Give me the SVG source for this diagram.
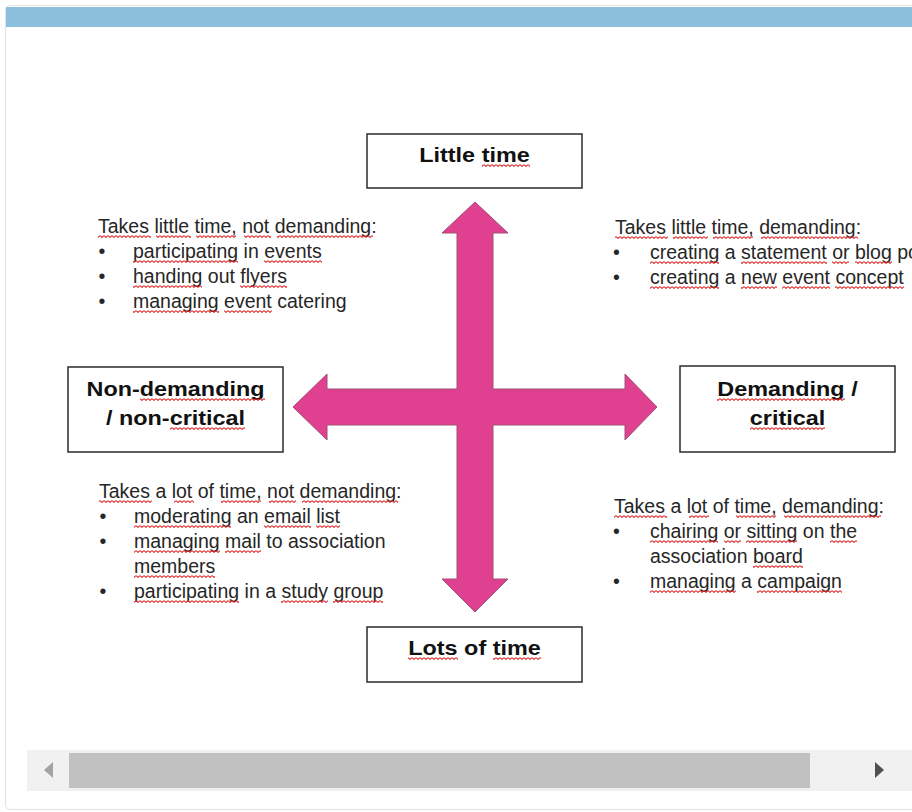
<svg xmlns="http://www.w3.org/2000/svg" width="912" height="812" viewBox="0 0 912 812">
  <style>
    .body{font-family:"Liberation Sans",Arial,sans-serif;font-size:19.5px;fill:#262626}
    .head{font-family:"Liberation Sans",Arial,sans-serif;font-size:20px;font-weight:bold;fill:#111;text-anchor:middle}
    .box{fill:#fff;stroke:#2b2b2b;stroke-width:1.5}
    .arrow{fill:#df4190;stroke:#a24e77;stroke-width:1}
    .sq rect{fill:url(#squiggle);height:3px}
  </style>
  <defs>
    <!-- red spell-check wave, tiled along each underlined word -->
    <pattern id="squiggle" patternUnits="userSpaceOnUse" x="0" y="0" width="4" height="3">
      <path d="M0,0.6 L2,2.4 L4,0.6" fill="none" stroke="#e22a2a" stroke-width="1.1"/>
    </pattern>
  </defs>

  <!-- card frame and header bar -->
  <rect x="5.5" y="5.5" width="930" height="804" rx="5" fill="#fff" stroke="#e2e2e2"/>
  <rect x="6" y="7" width="930" height="20" fill="#8bc0dc"/>

  <!-- four-way arrow -->
  <g id="connectors">
    <polygon class="arrow" points="475,202 508,233 493,233 493,389 625,389 625,374 657,407 625,440 625,425 493,425 493,579 508,579 475,612 442,579 457,579 457,425 327,425 327,440 293,407 327,374 327,389 457,389 457,233 442,233"/>
  </g>

  <!-- axis boxes -->
  <g id="node-little-time">
    <rect class="box" x="367" y="134" width="215" height="54"/>
    <text class="head" transform="translate(474.5,162) scale(1.17,1)" x="0" y="0"><tspan>Little</tspan> <tspan>time</tspan></text>
    <g class="sq" transform="translate(0,164)"><rect x="482" width="48"/></g>
  </g>
  <g id="node-non-demanding">
    <rect class="box" x="68" y="367" width="215" height="85"/>
    <text class="head" transform="translate(175.5,396) scale(1.17,1)" x="0" y="0"><tspan>Non-demanding</tspan></text>
    <text class="head" transform="translate(175.5,425) scale(1.17,1)" x="0" y="0"><tspan>/</tspan> <tspan>non-critical</tspan></text>
    <g class="sq" transform="translate(0,398)"><rect x="140" width="125"/></g>
    <g class="sq" transform="translate(0,427)"><rect x="170" width="75"/></g>
  </g>
  <g id="node-demanding">
    <rect class="box" x="680" y="366" width="215" height="86"/>
    <text class="head" transform="translate(787.5,396) scale(1.17,1)" x="0" y="0"><tspan>Demanding</tspan> <tspan>/</tspan></text>
    <text class="head" transform="translate(787.5,425) scale(1.17,1)" x="0" y="0"><tspan>critical</tspan></text>
    <g class="sq" transform="translate(0,398)"><rect x="717" width="128"/></g>
    <g class="sq" transform="translate(0,427)"><rect x="750" width="75"/></g>
  </g>
  <g id="node-lots-of-time">
    <rect class="box" x="367" y="627" width="215" height="55"/>
    <text class="head" transform="translate(474.5,655) scale(1.17,1)" x="0" y="0"><tspan>Lots</tspan> <tspan>of</tspan> <tspan>time</tspan></text>
    <g class="sq" transform="translate(0,657)"><rect x="408" width="50"/><rect x="493" width="48"/></g>
  </g>

  <!-- quadrant lists -->
  <g id="quadrant-top-left" class="body">
    <text x="98" y="233"><tspan>Takes</tspan> <tspan>little</tspan> <tspan>time,</tspan> <tspan>not</tspan> <tspan>demanding:</tspan></text>
    <text x="98.5" y="258">•</text>
    <text x="133" y="258"><tspan>participating</tspan> <tspan>in</tspan> <tspan>events</tspan></text>
    <text x="98.5" y="283">•</text>
    <text x="133" y="283"><tspan>handing</tspan> <tspan>out</tspan> <tspan>flyers</tspan></text>
    <text x="98.5" y="308">•</text>
    <text x="133" y="308"><tspan>managing</tspan> <tspan>event</tspan> <tspan>catering</tspan></text>
    <g class="sq" transform="translate(0,235)"><rect x="98" width="53"/><rect x="156" width="35"/><rect x="196" width="40"/><rect x="244" width="27"/><rect x="277" width="96"/></g>
    <g class="sq" transform="translate(0,260)"><rect x="133" width="105"/><rect x="264" width="58"/></g>
    <g class="sq" transform="translate(0,285)"><rect x="133" width="69"/><rect x="240" width="47"/></g>
    <g class="sq" transform="translate(0,310)"><rect x="133" width="86"/><rect x="224" width="48"/></g>
  </g>

  <g id="quadrant-top-right" class="body">
    <text x="615" y="234"><tspan>Takes</tspan> <tspan>little</tspan> <tspan>time,</tspan> <tspan>demanding:</tspan></text>
    <text x="613" y="259">•</text>
    <text x="650" y="259"><tspan>creating</tspan> <tspan>a</tspan> <tspan>statement</tspan> <tspan>or</tspan> <tspan>blog</tspan> <tspan>post</tspan></text>
    <text x="613" y="284">•</text>
    <text x="650" y="284"><tspan>creating</tspan> <tspan>a</tspan> <tspan>new</tspan> <tspan>event</tspan> <tspan>concept</tspan></text>
    <g class="sq" transform="translate(0,236)"><rect x="615" width="53"/><rect x="673" width="35"/><rect x="713" width="40"/><rect x="761" width="97"/></g>
    <g class="sq" transform="translate(0,261)"><rect x="650" width="69"/><rect x="741" width="86"/><rect x="832" width="17"/><rect x="855" width="37"/></g>
    <g class="sq" transform="translate(0,286)"><rect x="650" width="69"/><rect x="741" width="36"/><rect x="782" width="48"/><rect x="835" width="69"/></g>
  </g>

  <g id="quadrant-bottom-left" class="body">
    <text x="99" y="498"><tspan>Takes</tspan> <tspan>a</tspan> <tspan>lot</tspan> <tspan>of</tspan> <tspan>time,</tspan> <tspan>not</tspan> <tspan>demanding:</tspan></text>
    <text x="99.5" y="523">•</text>
    <text x="134" y="523"><tspan>moderating</tspan> <tspan>an</tspan> <tspan>email</tspan> <tspan>list</tspan></text>
    <text x="99.5" y="548">•</text>
    <text x="134" y="548"><tspan>managing</tspan> <tspan>mail</tspan> <tspan>to</tspan> <tspan>association</tspan></text>
    <text x="134" y="573"><tspan>members</tspan></text>
    <text x="99.5" y="598">•</text>
    <text x="134" y="598"><tspan>participating</tspan> <tspan>in</tspan> <tspan>a</tspan> <tspan>study</tspan> <tspan>group</tspan></text>
    <g class="sq" transform="translate(0,500)"><rect x="99" width="53"/><rect x="174" width="20"/><rect x="221" width="40"/><rect x="269" width="27"/><rect x="302" width="96"/></g>
    <g class="sq" transform="translate(0,525)"><rect x="134" width="97"/><rect x="264" width="47"/><rect x="316" width="24"/></g>
    <g class="sq" transform="translate(0,550)"><rect x="134" width="86"/><rect x="225" width="36"/></g>
    <g class="sq" transform="translate(0,575)"><rect x="134" width="81"/></g>
    <g class="sq" transform="translate(0,600)"><rect x="134" width="105"/><rect x="281" width="47"/><rect x="333" width="50"/></g>
  </g>

  <g id="quadrant-bottom-right" class="body">
    <text x="614" y="513"><tspan>Takes</tspan> <tspan>a</tspan> <tspan>lot</tspan> <tspan>of</tspan> <tspan>time,</tspan> <tspan>demanding:</tspan></text>
    <text x="613" y="538">•</text>
    <text x="650" y="538"><tspan>chairing</tspan> <tspan>or</tspan> <tspan>sitting</tspan> <tspan>on</tspan> <tspan>the</tspan></text>
    <text x="650" y="563"><tspan>association</tspan> <tspan>board</tspan></text>
    <text x="613" y="588">•</text>
    <text x="650" y="588"><tspan>managing</tspan> <tspan>a</tspan> <tspan>campaign</tspan></text>
    <g class="sq" transform="translate(0,515)"><rect x="614" width="53"/><rect x="689" width="20"/><rect x="736" width="40"/><rect x="784" width="97"/></g>
    <g class="sq" transform="translate(0,540)"><rect x="650" width="68"/><rect x="724" width="17"/><rect x="746" width="51"/><rect x="830" width="27"/></g>
    <g class="sq" transform="translate(0,565)"><rect x="753" width="50"/></g>
    <g class="sq" transform="translate(0,590)"><rect x="650" width="86"/><rect x="757" width="85"/></g>
  </g>

  <!-- horizontal scrollbar -->
  <rect x="27" y="750" width="890" height="41" fill="#f1f1f1"/>
  <rect x="69" y="753" width="741" height="35" fill="#c1c1c1"/>
  <polygon points="53,762 53,778 44,770" fill="#a3a3a3"/>
  <polygon points="875,762 875,778 884,770" fill="#505050"/>
</svg>
